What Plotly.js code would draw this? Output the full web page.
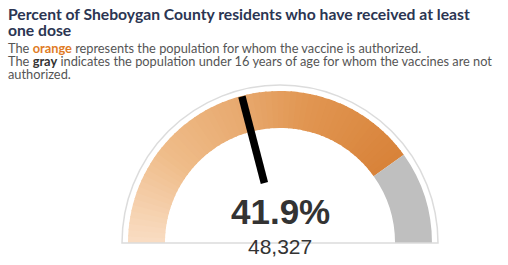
<!DOCTYPE html>
<html>
<head>
<meta charset="utf-8">
<script src="https://cdn.plot.ly/plotly-3.0.1.min.js"></script>
<style>html,body{margin:0;padding:0;background:#fff;}#chart{width:508px;height:265px;}</style>
</head>
<body>
<div id="chart"></div>
<script>
// ---- data ----
const pctVaccinated = 41.9;        // % with at least one dose
const pctAuthorized = 80.3;        // share of population for whom vaccine is authorized
const peopleVaccinated = 48327;    // count with at least one dose
const gaugeMax = 100;

const titleLines = [
  "Percent of Sheboygan County residents who have received at least",
  "one dose"
];
const noteLines = [
  "The <b><span style='color:#e07b25'>orange</span></b> represents the population for whom the vaccine is authorized.",
  "The <b><span style='color:#333333'>gray</span></b> indicates the population under 16 years of age for whom the vaccines are not",
  "authorized."
];

// ---- styling helpers ----
const DEG = 180 / gaugeMax;            // gauge units -> degrees
const rOuterRing = 1.0, rOut = 0.962, rIn = 0.728, rNeedleIn = 0.392, rNeedleOut = 0.958;
const SLICES = 60;                     // slices used to paint the colour ramp

const gradTheta = [], gradWidth = [], gradColor = [];
const step = pctAuthorized / SLICES;
for (let i = 0; i < SLICES; i++) {
  const start = i * step;
  const span = (i === SLICES - 1) ? step : step * 1.25;
  gradTheta.push((start + span / 2) * DEG);
  gradWidth.push(span * DEG);
  gradColor.push(i / (SLICES - 1));
}

const orangeTrace = {
  type: 'barpolar',
  theta: gradTheta,
  width: gradWidth,
  r: gradTheta.map(() => rOut - rIn),
  base: rIn,
  marker: {
    color: gradColor,
    cmin: 0, cmax: 1,
    colorscale: [[0,'#f9dcc2'],[0.26,'#efbc89'],[0.5,'#e8aa70'],[0.7,'#e19652'],[1,'#d8833a']],
    line: {width: 0}
  },
  hoverinfo: 'skip'
};

const grayTrace = {
  type: 'barpolar',
  theta: [((pctAuthorized + gaugeMax) / 2) * DEG],
  width: [(gaugeMax - pctAuthorized) * DEG],
  r: [rOut - rIn],
  base: rIn,
  marker: {color: '#bfbfbf', line: {width: 0}},
  hoverinfo: 'skip'
};

const needleTrace = {
  type: 'scatterpolar',
  mode: 'lines',
  r: [rNeedleIn, rNeedleOut],
  theta: [pctVaccinated * DEG, pctVaccinated * DEG],
  line: {color: '#000000', width: 7.5},
  hoverinfo: 'skip'
};

const annotations = [];
const titleY = [14, 30];
titleLines.forEach((t, i) => annotations.push({
  text: '<b>' + t + '</b>', xref: 'paper', yref: 'paper', x: 7/508, y: 1 - titleY[i]/265,
  xanchor: 'left', yanchor: 'middle', showarrow: false, borderpad: 0,
  font: {family: 'Lato, sans-serif', size: 15.7, color: '#2b3552'}
}));
const noteY = [48, 61, 74];
noteLines.forEach((t, i) => annotations.push({
  text: t, xref: 'paper', yref: 'paper', x: 7/508, y: 1 - noteY[i]/265,
  xanchor: 'left', yanchor: 'middle', showarrow: false, borderpad: 0,
  font: {family: 'Lato, sans-serif', size: 12.8, color: '#555555'}
}));
annotations.push({
  text: '<b>' + pctVaccinated.toFixed(1) + '%</b>', xref: 'paper', yref: 'paper',
  x: 280/508, y: 1 - 211/265, xanchor: 'center', yanchor: 'middle', showarrow: false,
  font: {family: 'Liberation Sans, sans-serif', size: 35, color: '#333333'}
});
annotations.push({
  text: peopleVaccinated.toLocaleString('en-US'), xref: 'paper', yref: 'paper',
  x: 280/508, y: 1 - 246/265, xanchor: 'center', yanchor: 'middle', showarrow: false,
  font: {family: 'Liberation Sans, sans-serif', size: 21, color: '#333333'}
});

const layout = {
  width: 508, height: 265,
  margin: {l: 0, r: 0, t: 0, b: 0},
  paper_bgcolor: '#ffffff',
  showlegend: false,
  hovermode: false,
  polar: {
    domain: {x: [122/508, 438/508], y: [22/265, 180/265]},
    sector: [0, 180],
    bgcolor: 'rgba(0,0,0,0)',
    barmode: 'overlay',
    radialaxis: {visible: false, range: [0, rOuterRing]},
    angularaxis: {
      direction: 'clockwise', rotation: 180, thetaunit: 'degrees',
      showline: true, linecolor: '#dcdcdc', linewidth: 1.5,
      showgrid: false, showticklabels: false, ticks: ''
    }
  },
  annotations: annotations
};

Plotly.newPlot('chart', [orangeTrace, grayTrace, needleTrace], layout, {displayModeBar: false, staticPlot: true});
</script>
</body>
</html>
